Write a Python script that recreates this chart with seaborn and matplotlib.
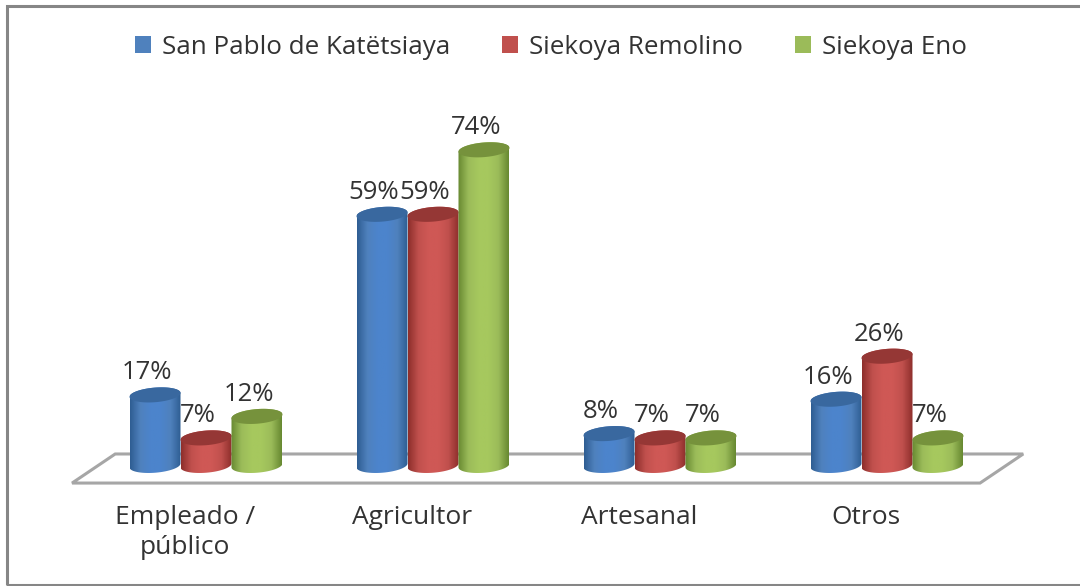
import numpy as np
import pandas as pd
import matplotlib
matplotlib.use("Agg")
import matplotlib.pyplot as plt
import seaborn as sns
from matplotlib.colors import LinearSegmentedColormap
from matplotlib.patches import Polygon, Rectangle
from matplotlib.transforms import ScaledTranslation

categories = ["Empleado /\npúblico", "Agricultor", "Artesanal", "Otros"]
san_pablo = [17, 59, 8, 16]
remolino = [7, 59, 7, 26]
eno = [12, 74, 7, 7]
series_names = ["San Pablo de Katëtsiaya", "Siekoya Remolino", "Siekoya Eno"]
series_values = [san_pablo, remolino, eno]
base_colors = ["#4F81BD", "#C0504D", "#9BBB59"]
edge_colors = ["#2F5E93", "#8E2F2C", "#688A32"]
mid_colors = ["#4C84CC", "#CF5855", "#A6C85E"]
top_colors = ["#39689F", "#953735", "#76923C"]

sns.set_theme(style="white")
plt.rcParams["font.family"] = ["Open Sans", "DejaVu Sans"]
TEXT = "#333333"
FS = 18.5

df = pd.DataFrame({
    "cat": np.repeat(categories, len(series_names)),
    "serie": series_names * len(categories),
    "val": [series_values[j][i] for i in range(len(categories)) for j in range(len(series_names))],
})

fig = plt.figure(figsize=(10.8, 5.86), dpi=100, facecolor="white")
ax = fig.add_axes([0, 0, 1, 1], facecolor="white")
sns.barplot(data=df, x="cat", y="val", hue="serie", order=categories, hue_order=series_names,
            palette=base_colors, width=0.674, gap=0, saturation=1, errorbar=None, ax=ax,
            linewidth=0)

XL = (-206 / 227, (1080 - 206) / 227)
YL = ((468 - 586) / 4.3, 468 / 4.3)

# floor of the 3D plot
ax.add_patch(Polygon([(-0.59, -3.5), (3.41, -3.5), (3.60, 3.26), (-0.40, 3.26)], closed=True,
                     fc="white", ec="#A6A6A6", lw=2.2, zorder=1))
# chart frame (runs off the right edge of the picture)
ax.add_patch(Rectangle((7 / 1080, 1 - 585 / 586), 1100 / 1080, 579 / 586, transform=ax.transAxes,
                       fc="none", ec="#868686", lw=2.2, zorder=0.5, clip_on=True))

t = np.linspace(0, 2 * np.pi, 121)
RY = 1.7      # half height of the cap, data units
SHEAR = 0.45  # small tilt of the cap
BASE = 0.6

for j, cont in enumerate(ax.containers):
    cmap = LinearSegmentedColormap.from_list(
        "c", [edge_colors[j], base_colors[j], mid_colors[j], mid_colors[j], base_colors[j], edge_colors[j]])
    for i, bar in enumerate(cont):
        bar.set_visible(False)
        x0, w, h = bar.get_x(), bar.get_width(), bar.get_height()
        a, cx = w / 2, x0 + w / 2
        z = 3 + j * 0.1
        th = np.linspace(0, np.pi, 61)
        # outline of the body: lower half at the base, upper half at the top
        xs = np.r_[cx - a * np.cos(th), cx + a * np.cos(th)]
        ys = np.r_[BASE - RY * np.sin(th) + SHEAR * (-np.cos(th)),
                   h + RY * np.sin(th) + SHEAR * np.cos(th)]
        body = Polygon(np.c_[xs, ys], closed=True, fc="none", ec="none", zorder=z)
        ax.add_patch(body)
        im = ax.imshow(np.linspace(0, 1, 64)[None, :], extent=(x0, x0 + w, BASE - 3, h + 3),
                       cmap=cmap, aspect="auto", zorder=z, interpolation="bilinear")
        im.set_clip_path(body)
        cap = Polygon(np.c_[cx + a * np.cos(t), h + RY * np.sin(t) + SHEAR * np.cos(t)],
                      closed=True, fc=top_colors[j], ec="none", zorder=z + 0.01)
        ax.add_patch(cap)
        ax.annotate(f"{h:.0f}%", (cx, h), xytext=(-8 * 0.72, 22 * 0.72), textcoords="offset points",
                    ha="center", va="center", fontsize=FS, color=TEXT, zorder=10)

ax.set_xlim(*XL)
ax.set_ylim(*YL)
ax.spines["bottom"].set_position(("data", -6))
for s in ax.spines.values():
    s.set_visible(False)
ax.set_yticks([])
ax.set_xlabel("")
ax.set_ylabel("")
ax.tick_params(axis="x", length=0, pad=8, labelsize=19, labelcolor=TEXT)
off = ScaledTranslation(-21 / 100, 0, fig.dpi_scale_trans)
for lab in ax.get_xticklabels():
    lab.set_transform(lab.get_transform() + off)
    lab.set_linespacing(1.25)

h, l = ax.get_legend_handles_labels()
leg = ax.legend(h, l, ncol=3, loc="center", bbox_to_anchor=(551 / 1080, 1 - 47 / 586), frameon=False,
                fontsize=18.7, handlelength=0.62, handleheight=0.62, handletextpad=0.42,
                columnspacing=2.0, labelcolor=TEXT)

fig.savefig("out.png", dpi=100)
